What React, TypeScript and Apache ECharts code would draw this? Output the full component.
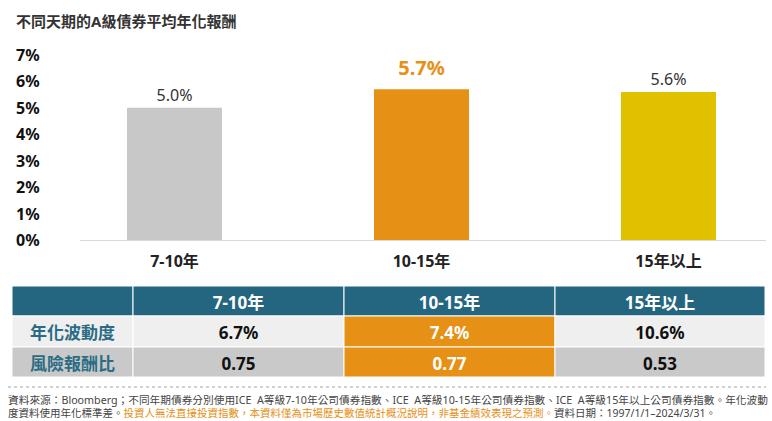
import React, { useEffect, useRef } from "react";
import * as echarts from "echarts";

// ---- data ----
const titleText = "不同天期的A級債券平均年化報酬";
const categories = ["7-10年", "10-15年", "15年以上"];
const avgReturn = [5.0, 5.7, 5.6];
const barColors = ["#c8c8c8", "#e69016", "#e0c100"];
const yMin = 0;
const yMax = 7;
const yInterval = 1;
const rowLabels = ["年化波動度", "風險報酬比"];
const volatility = [6.7, 7.4, 10.6];
const riskReturn = [0.75, 0.77, 0.53];
const highlightIndex = 1;
const footLine1 =
  "資料來源：Bloomberg；不同年期債券分別使用ICE  A等級7-10年公司債券指數、ICE  A等級10-15年公司債券指數、ICE  A等級15年以上公司債券指數。年化波動";
const footLine2a = "度資料使用年化標準差。";
const footLine2b = "投資人無法直接投資指數，本資料僅為市場歷史數值統計概況說明，非基金績效表現之預測。";
const footLine2c = "資料日期：1997/1/1–2024/3/31。";

const FONT = "'Noto Sans', 'Noto Sans CJK TC', sans-serif";
const TEAL = "#24667f";
const ORANGE = "#e69016";

function buildTable(): any[] {
  const colX = [12, 133, 344, 555, 765];
  const rowY = [286, 316, 347, 377];
  const rowBg = ["#efefef", "#c9c9c9"];
  const els: any[] = [];
  const cell = (c: number, r: number, fill: string, text: string, color: string, size: number) => {
    const x = colX[c];
    const y = rowY[r];
    const w = colX[c + 1] - x;
    const h = rowY[r + 1] - y;
    els.push({
      type: "rect",
      shape: { x, y, width: w, height: h },
      style: { fill, stroke: "#ffffff", lineWidth: 1 },
    });
    if (text) {
      els.push({
        type: "text",
        x: x + w / 2,
        y: y + h / 2 + 1,
        style: {
          text,
          fill: color,
          fontSize: size,
          fontWeight: "bold",
          fontFamily: FONT,
          align: "center",
          verticalAlign: "middle",
        },
      });
    }
  };
  cell(0, 0, TEAL, "", "#fff", 17);
  categories.forEach((c, i) => cell(i + 1, 0, TEAL, c, "#ffffff", 17));
  const rows = [
    volatility.map((v) => v.toFixed(1) + "%"),
    riskReturn.map((v) => v.toFixed(2)),
  ];
  rowLabels.forEach((lab, r) => {
    cell(0, r + 1, rowBg[r], lab, "#2b6c84", 17);
    rows[r].forEach((t, i) => {
      const hl = i === highlightIndex;
      cell(i + 1, r + 1, hl ? ORANGE : rowBg[r], t, hl ? "#ffffff" : "#111111", 17);
    });
  });
  return els;
}

export default function App() {
  const ref = useRef<HTMLDivElement>(null);
  useEffect(() => {
    document.body.style.margin = "0";
    const chart = echarts.init(ref.current!, undefined, { renderer: "svg" });
    const option: any = {
      animation: false,
      backgroundColor: "#ffffff",
      title: {
        text: titleText,
        left: 11,
        top: 8,
        textStyle: { fontSize: 15, fontWeight: "bold", color: "#333333", fontFamily: FONT },
      },
      // first category centred at the grid's left edge, last at its right edge
      grid: { left: 174.5, width: 494, top: 55, bottom: 181, containLabel: false },
      xAxis: {
        type: "category",
        data: categories,
        boundaryGap: false,
        axisLine: { show: false },
        axisTick: { show: false },
        axisLabel: {
          margin: 13,
          fontSize: 16,
          fontWeight: "bold",
          color: "#222222",
          fontFamily: FONT,
        },
      },
      yAxis: {
        type: "value",
        min: yMin,
        max: yMax,
        interval: yInterval,
        splitLine: { show: false },
        axisLine: { show: false },
        axisTick: { show: false },
        axisLabel: {
          formatter: (v: number) => v + "%",
          align: "left",
          margin: 158.5,
          fontSize: 16,
          fontWeight: "bold",
          color: "#111111",
          fontFamily: FONT,
        },
      },
      series: [
        {
          type: "bar",
          barWidth: 95,
          clip: false,
          data: avgReturn.map((v, i) => ({
            value: v,
            itemStyle: { color: barColors[i] },
            label:
              i === highlightIndex
                ? { color: ORANGE, fontWeight: "bold", fontSize: 20, distance: 12 }
                : {},
          })),
          label: {
            show: true,
            position: "top",
            distance: 5,
            fontSize: 16,
            color: "#333333",
            fontFamily: FONT,
            formatter: (p: any) => Number(p.value).toFixed(1) + "%",
          },
        },
      ],
      graphic: [
        {
          type: "line",
          shape: { x1: 80, y1: 240.5, x2: 766, y2: 240.5 },
          style: { stroke: "#d9d9d9", lineWidth: 1 },
        },
        ...buildTable(),
        {
          type: "line",
          shape: { x1: 8, y1: 387, x2: 766, y2: 387 },
          style: { stroke: "#d0d0d0", lineWidth: 2, lineDash: [3, 3] },
        },
        {
          type: "text",
          x: 8,
          y: 400,
          style: {
            text: footLine1,
            fontSize: 10.7,
            lineHeight: 11,
            fill: "#444444",
            fontFamily: FONT,
            verticalAlign: "middle",
          },
        },
        {
          type: "text",
          x: 8,
          y: 413,
          style: {
            text: "{g|" + footLine2a + "}{o|" + footLine2b + "}{g|" + footLine2c + "}",
            fontSize: 10.5,
            lineHeight: 11,
            fontFamily: FONT,
            verticalAlign: "middle",
            rich: {
              g: { fill: "#444444", fontSize: 10.5, lineHeight: 11, fontFamily: FONT },
              o: { fill: ORANGE, fontSize: 10.5, lineHeight: 11, fontFamily: FONT },
            },
          },
        },
      ],
    };
    chart.setOption(option);
    return () => chart.dispose();
  }, []);
  return <div ref={ref} style={{ width: 772, height: 421 }} />;
}
